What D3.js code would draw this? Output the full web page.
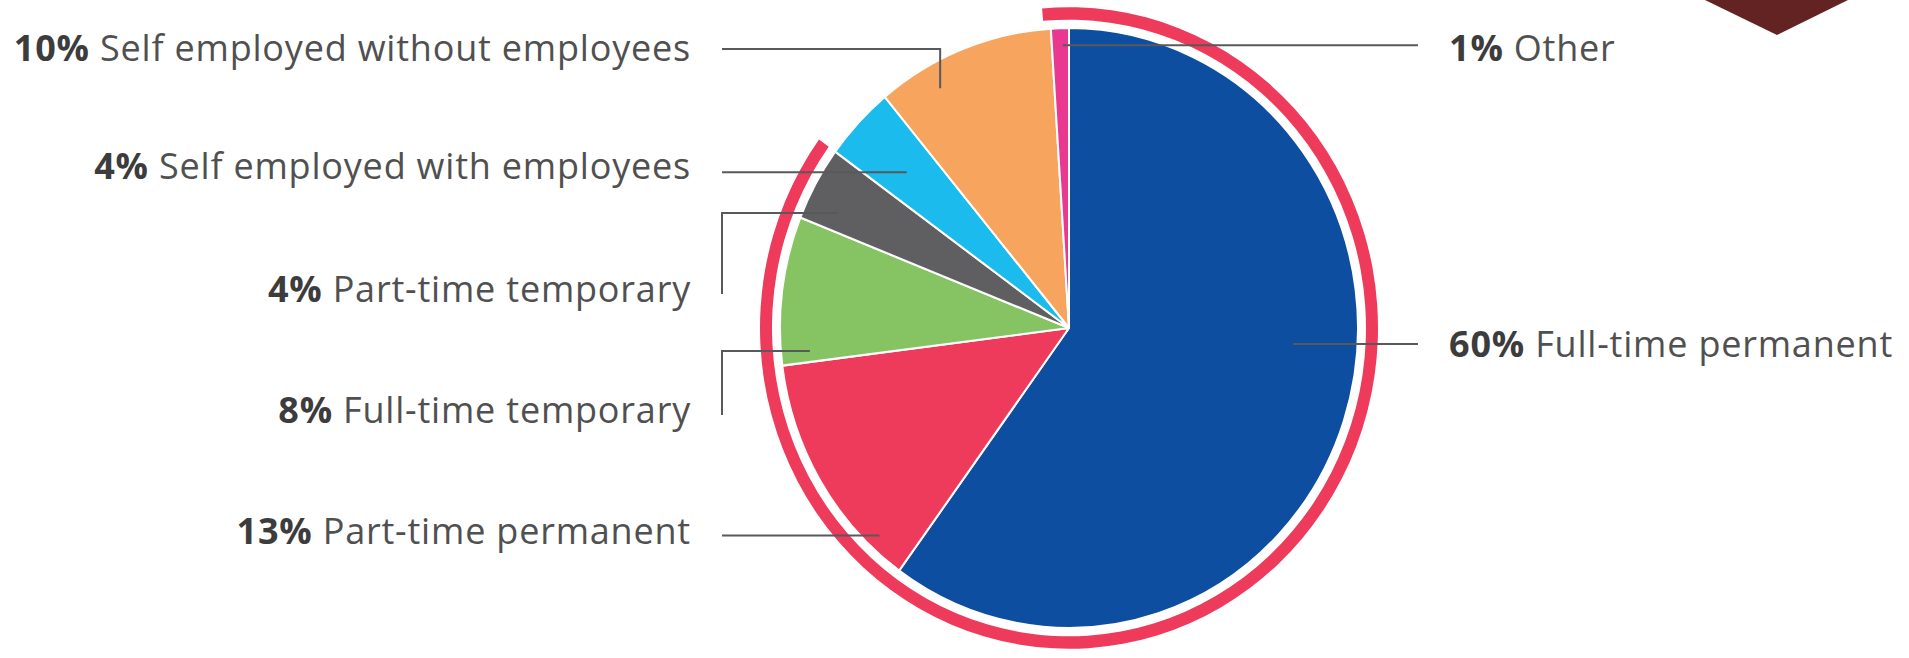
<!DOCTYPE html>
<html>
<head>
<meta charset="utf-8">
<script src="https://cdn.jsdelivr.net/npm/d3@7"></script>
<style>
  html, body { margin: 0; padding: 0; background: #fff; }
  svg { display: block; }
  text { font-family: "Open Sans", sans-serif; }
</style>
</head>
<body>
<svg id="chart" width="1909" height="658"></svg>
<script>
// data, clockwise from 12 o'clock
var categories = [
  "Full-time permanent",
  "Part-time permanent",
  "Full-time temporary",
  "Part-time temporary",
  "Self employed with employees",
  "Self employed without employees",
  "Other"
];
var values = [60, 13, 8, 4, 4, 10, 1];
var colors = ["#0d4ea1", "#ee3a5b", "#86c463", "#5f5f62", "#1bbbed", "#f7a55e", "#e8388f"];
// the red ring marks the employee categories
var employeeGroup = ["Full-time permanent", "Part-time permanent", "Full-time temporary", "Part-time temporary"];

// label layout (order matches categories)
var labelSide = ["right", "left", "left", "left", "left", "left", "right"];
var labelY = [345, 532, 411, 290, 167, 49, 49];
var leaderType = ["h", "h", "up", "up", "h", "down", "h"];
var leaderT = [0.435, 0.16, 0.08, 0.28, 0.47, 0.29, 0.64];   // position inside slice
var leaderR = [0.777, 0.953, 0.9, 0.887, 0.765, 0.915, 0.943];

var width = 1909, height = 658;
var cx = 1069, cy = 328;
var rx = 289, ry = 300;
var sy = ry / rx;

var svg = d3.select("#chart");

var data = categories.map(function (c, i) {
  return { name: c, value: values[i], color: colors[i], i: i };
});

var pieGen = d3.pie().sort(null).value(function (d) { return d.value; });
var arcs = pieGen(data);

var arcGen = d3.arc().innerRadius(0).outerRadius(rx);

var g = svg.append("g")
  .attr("transform", "translate(" + cx + "," + cy + ") scale(1," + sy + ")");

g.selectAll("path.slice")
  .data(arcs)
  .enter()
  .append("path")
  .attr("class", "slice")
  .attr("d", arcGen)
  .attr("fill", function (d) { return d.data.color; })
  .attr("stroke", "#fff")
  .attr("stroke-width", 2)
  .attr("stroke-linejoin", "round");

// red ring round the employee slices
var empArcs = arcs.filter(function (a) { return employeeGroup.indexOf(a.data.name) >= 0; });
var ringStart = d3.min(empArcs, function (a) { return a.startAngle; }) - 5 * Math.PI / 180;
var ringEnd = d3.max(empArcs, function (a) { return a.endAngle; });
g.append("path")
  .attr("d", d3.arc()({ innerRadius: 297, outerRadius: 309, startAngle: ringStart, endAngle: ringEnd }))
  .attr("fill", "#ee3a5b");

// leader lines
function polar(a, r) {
  return [cx + r * rx * Math.sin(a), cy - r * ry * Math.cos(a)];
}
var leftX = 722, rightX = 1418;
var lines = svg.append("g")
  .attr("fill", "none")
  .attr("stroke", "#58595b")
  .attr("stroke-width", 2);

arcs.forEach(function (a, i) {
  var ang = a.startAngle + leaderT[i] * (a.endAngle - a.startAngle);
  var p = polar(ang, leaderR[i]);
  var x0 = labelSide[i] === "left" ? leftX : rightX;
  var pts;
  if (leaderType[i] === "h") {
    pts = [[x0, p[1]], p];
  } else if (leaderType[i] === "down") {
    pts = [[x0, labelY[i]], [p[0], labelY[i]], p];
  } else {
    pts = [[x0, labelY[i] + 4], [x0, p[1]], p];
  }
  lines.append("path").attr("d", d3.line()(pts));
});

// labels
var labels = svg.append("g")
  .attr("font-size", 36)
  .attr("letter-spacing", 0.8);
arcs.forEach(function (a, i) {
  var left = labelSide[i] === "left";
  var t = labels.append("text")
    .attr("x", left ? 691 : 1449)
    .attr("y", labelY[i] + 12)
    .attr("text-anchor", left ? "end" : "start");
  t.append("tspan")
    .attr("font-weight", 700)
    .attr("fill", "#3c3c3c")
    .text(a.data.value + "%");
  t.append("tspan")
    .attr("fill", "#505050")
    .text(" " + a.data.name);
});

// corner marker, top right
svg.append("path")
  .attr("d", d3.line()([[1705, 0], [1848, 0], [1777, 35]]))
  .attr("fill", "#632322");
</script>
</body>
</html>
